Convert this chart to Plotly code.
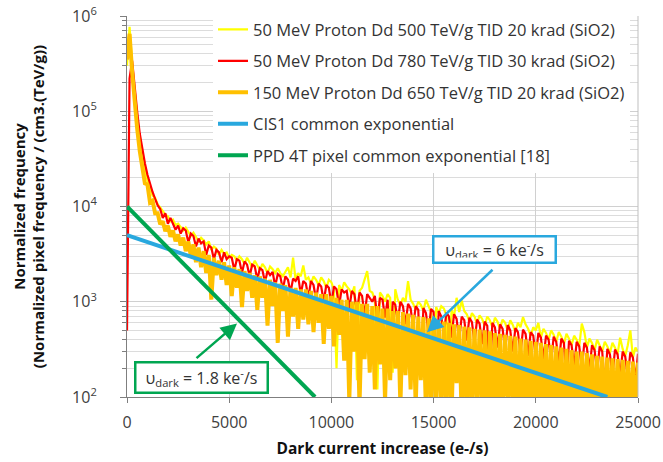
import plotly.graph_objects as go

# ---------------- data ----------------
bin_width = 125  # e-/s per histogram bin
n_bins = 201
x_bins = [bin_width * i for i in range(n_bins)]

yellow_500 = [
    300000, 770000, 320000, 150000, 85000, 48000, 33000, 24000, 19000, 15500,
    13000, 12300, 10500, 9800, 9000, 8200, 7900, 7000, 7300, 6400,
    6600, 6100, 5600, 6000, 5400, 4900, 5300, 4800, 4300, 4700,
    4400, 4000, 4300, 3500, 3800, 3600, 3100, 3500, 3200, 3300,
    2900, 3100, 3000, 2700, 3000, 2800, 2500, 2900, 2600, 2300,
    2700, 2400, 2150, 2500, 2300, 2000, 2350, 2200, 2000, 2250,
    2000, 1850, 2100, 2300, 1800, 2900, 1700, 2000, 1850, 2400,
    1700, 1800, 1550, 1850, 1700, 1500, 1800, 1650, 1400, 1700,
    1600, 1350, 200, 1500, 1300, 1600, 1450, 1350, 1200, 1450,
    150, 1300, 1400, 1750, 2100, 1300, 1250, 1050, 120, 1250,
    1150, 1000, 1200, 1100, 180, 1350, 1050, 920, 1100, 1000,
    1650, 1050, 950, 830, 1000, 930, 800, 1050, 900, 780,
    130, 880, 760, 900, 850, 720, 110, 820, 700, 1100,
    780, 1030, 800, 740, 620, 760, 700, 590, 720, 660,
    560, 700, 640, 540, 680, 620, 520, 650, 600, 500,
    640, 570, 480, 600, 540, 690, 580, 520, 440, 540,
    500, 600, 420, 520, 470, 400, 500, 450, 380, 480,
    430, 360, 460, 410, 350, 440, 400, 340, 590, 480,
    330, 410, 370, 310, 400, 350, 300, 380, 340, 290,
    370, 330, 280, 420, 320, 270, 350, 500, 260, 330,
    300,
]

red_780 = [
    500, 220000, 340000, 175000, 98000, 58000, 39000, 28500, 21500, 17000,
    14200, 12000, 10300, 9400, 7600, 8500, 6600, 7600, 6500, 5700,
    6300, 5200, 5900, 5600, 4200, 5200, 4900, 3800, 4600, 4100,
    4300, 3100, 3900, 3700, 2800, 3500, 3300, 2600, 3300, 2800,
    3000, 2900, 2150, 2800, 2700, 2000, 2650, 2450, 1850, 2450,
    2350, 1700, 2250, 2150, 1600, 2100, 1900, 2050, 1450, 1950,
    1850, 1350, 1850, 1700, 1250, 1750, 1650, 1850, 1200, 1650,
    1550, 1100, 1650, 1500, 1050, 1550, 1450, 1000, 1500, 1400,
    950, 1450, 1350, 900, 1350, 1250, 1300, 850, 1300, 1200,
    780, 1250, 1150, 720, 1200, 1100, 1000, 1150, 650, 1100,
    1050, 680, 1050, 250, 1000, 930, 620, 1000, 900, 580,
    950, 850, 540, 900, 820, 160, 860, 760, 480, 840,
    780, 140, 800, 700, 450, 770, 700, 420, 740, 660,
    400, 700, 640, 390, 680, 610, 370, 650, 590, 360,
    620, 560, 150, 600, 540, 330, 580, 520, 310, 570,
    500, 300, 530, 480, 290, 510, 460, 270, 480, 440,
    260, 470, 420, 250, 440, 400, 240, 430, 380, 230,
    410, 370, 130, 390, 350, 210, 380, 340, 200, 370,
    330, 190, 350, 310, 185, 340, 300, 120, 320, 280,
    170, 315, 280, 165, 300, 265, 160, 295, 260, 150,
    285,
]

orange_650 = [
    350000, 650000, 260000, 120000, 65000, 38000, 25000, 17500, 17000, 11000,
    11500, 8500, 8500, 6500, 7000, 5500, 6300, 4800, 5600, 4300,
    5100, 3900, 4700, 3400, 4300, 3000, 4000, 2600, 3700, 2300,
    3400, 2000, 3100, 1050, 2900, 1900, 2700, 1700, 2600, 1500,
    2400, 1150, 2300, 1400, 2200, 880, 2100, 1300, 2000, 1100,
    1900, 820, 1850, 1100, 1750, 560, 1700, 900, 1600, 370,
    1550, 800, 1500, 430, 1400, 700, 1400, 520, 1350, 650,
    1350, 580, 1300, 480, 1250, 600, 1200, 360, 1200, 520,
    1150, 340, 1100, 450, 1050, 240, 1050, 90, 1000, 300,
    1000, 80, 950, 250, 950, 180, 900, 120, 900, 220,
    850, 90, 850, 150, 800, 200, 800, 80, 780, 170,
    750, 120, 730, 80, 700, 150, 690, 70, 670, 60,
    650, 90, 630, 60, 620, 70, 600, 60, 580, 140,
    570, 60, 550, 70, 540, 60, 520, 80, 510, 60,
    500, 60, 490, 70, 470, 60, 460, 60, 450, 80,
    440, 60, 430, 60, 410, 70, 400, 60, 390, 60,
    380, 70, 370, 60, 360, 60, 350, 60, 340, 70,
    330, 60, 320, 60, 310, 60, 300, 60, 300, 70,
    290, 60, 280, 60, 270, 60, 265, 60, 260, 60,
    255, 60, 250, 60, 245, 60, 240, 60, 235, 60,
    230,
]

# common exponential fits (end points)
cis1_x = [0, 23500]
cis1_y = [5000, 100]
ppd_x = [0, 9200]
ppd_y = [10000, 100]

series_names = [
    "50 MeV Proton Dd 500 TeV/g TID 20 krad (SiO2)",
    "50 MeV Proton Dd 780 TeV/g TID 30 krad (SiO2)",
    "150 MeV Proton Dd 650 TeV/g TID 20 krad (SiO2)",
    "CIS1 common exponential",
    "PPD 4T pixel common exponential [18]",
]

x_ticks = [0, 5000, 10000, 15000, 20000, 25000]
x_ticktext = ["0", "5000", "10000", "15000", "20000", "25000"]
y_ticks = [100, 1000, 10000, 100000, 1000000]
y_ticktext = ["10<sup>2</sup>", "10<sup>3</sup>", "10<sup>4</sup>", "10<sup>5</sup>", "10<sup>6</sup>"]
y_minor = [m * d for d in [100, 1000, 10000, 100000] for m in range(2, 10)]

# ---------------- styles ----------------
YELLOW = "#FFFF00"
RED = "#FF0000"
ORANGE = "#FFC000"
BLUE = "#29A8DE"
GREEN = "#00A651"
FONT = "Open Sans"
TXT = "#404040"

fig = go.Figure()
fig.add_trace(go.Scatter(x=x_bins, y=yellow_500, mode="lines", name=series_names[0],
                         line=dict(color=YELLOW, width=2.2), legendgroup="a"))
fig.add_trace(go.Scatter(x=x_bins, y=red_780, mode="lines", name=series_names[1],
                         line=dict(color=RED, width=2.2), legendgroup="b"))
fig.add_trace(go.Scatter(x=x_bins, y=orange_650, mode="lines", name=series_names[2],
                         line=dict(color=ORANGE, width=4), legendgroup="c"))
fig.add_trace(go.Scatter(x=cis1_x, y=cis1_y, mode="lines", name=series_names[3],
                         line=dict(color=BLUE, width=4), legendgroup="d"))
fig.add_trace(go.Scatter(x=ppd_x, y=ppd_y, mode="lines", name=series_names[4],
                         line=dict(color=GREEN, width=4), legendgroup="e"))

L, R, T, B = 127, 25, 14, 65
W, H = 663, 462
pw, ph = W - L - R, H - T - B

def px2paper(px, py):
    return (px - L) / pw, (H - B - py) / ph

annotations = []
# green arrow
hx, hy = px2paper(237, 323)
annotations.append(dict(xref="paper", yref="paper", x=hx, y=hy, ax=-42, ay=36,
                        text="", showarrow=True, arrowhead=2, arrowsize=1.3,
                        arrowwidth=2.5, arrowcolor=GREEN))
# blue arrow
hx, hy = px2paper(427, 332)
annotations.append(dict(xref="paper", yref="paper", x=hx, y=hy, ax=67, ay=-64,
                        text="", showarrow=True, arrowhead=2, arrowsize=1.3,
                        arrowwidth=2.5, arrowcolor=BLUE))
# green box
bx, by = px2paper(201, 377)
annotations.append(dict(xref="paper", yref="paper", x=bx, y=by, showarrow=False,
                        xanchor="center", yanchor="middle",
                        text="υ<sub>dark</sub> = 1.8 ke<sup>-</sup>/s",
                        font=dict(family=FONT, size=16, color="#333333"),
                        bgcolor="white", bordercolor=GREEN, borderwidth=2.5,
                        borderpad=4, width=122, height=20))
# blue box
bx, by = px2paper(494, 249)
annotations.append(dict(xref="paper", yref="paper", x=bx, y=by, showarrow=False,
                        xanchor="center", yanchor="middle",
                        text="υ<sub>dark</sub> = 6 ke<sup>-</sup>/s",
                        font=dict(family=FONT, size=16, color="#333333"),
                        bgcolor="white", bordercolor=BLUE, borderwidth=2.5,
                        borderpad=4, width=112, height=16))

fig.update_layout(
    width=W, height=H,
    margin=dict(l=L, r=R, t=T, b=B),
    paper_bgcolor="white", plot_bgcolor="white",
    font=dict(family=FONT, size=15, color=TXT),
    showlegend=True,
    legend=dict(x=(213 - L) / pw, y=1.01, xanchor="left", yanchor="top",
                bgcolor="white", borderwidth=0, traceorder="grouped",
                tracegroupgap=7, font=dict(family=FONT, size=16.5, color="#333333"),
                itemwidth=30),
    annotations=annotations,
)

fig.update_xaxes(
    range=[0, 25000], tickvals=x_ticks, ticktext=x_ticktext, ticks="outside", ticklen=5,
    tickcolor="#7f7f7f", showline=True, linecolor="#7f7f7f", linewidth=1,
    mirror=False, showgrid=True, gridcolor="#d0d0d0", gridwidth=1,
    zeroline=False, tickfont=dict(family=FONT, size=16, color=TXT),
    ticklabelstandoff=6, automargin=False,
    title=dict(text="<b>Dark current increase (e-/s)</b>",
               font=dict(family=FONT, size=15.5, color="#111111"), standoff=10),
)
fig.update_yaxes(
    type="log", range=[2, 6], tickvals=y_ticks, ticktext=y_ticktext,
    ticks="outside", ticklen=6, tickcolor="#7f7f7f",
    showline=True, linecolor="#7f7f7f", linewidth=1, mirror=False,
    showgrid=True, gridcolor="#d0d0d0", gridwidth=1, zeroline=False,
    tickfont=dict(family=FONT, size=16, color=TXT), ticklabelstandoff=20,
    minor=dict(tickvals=y_minor, ticks="outside", ticklen=4, tickcolor="#7f7f7f",
               showgrid=True, gridcolor="#dcdcdc", gridwidth=1),
    automargin=False,
    title=dict(text="<b>Normalized frequency<br>(Normalized pixel frequency / (cm3.(TeV/g))</b>",
               font=dict(family=FONT, size=15, color="#111111"), standoff=23),
)
# right-hand plot border
fig.add_shape(type="line", xref="paper", yref="paper", x0=1, x1=1, y0=0, y1=1,
              line=dict(color="#bfbfbf", width=1))

fig.write_html("out.html", config={"displayModeBar": False},
               post_script="document.body.style.margin='0px';")
